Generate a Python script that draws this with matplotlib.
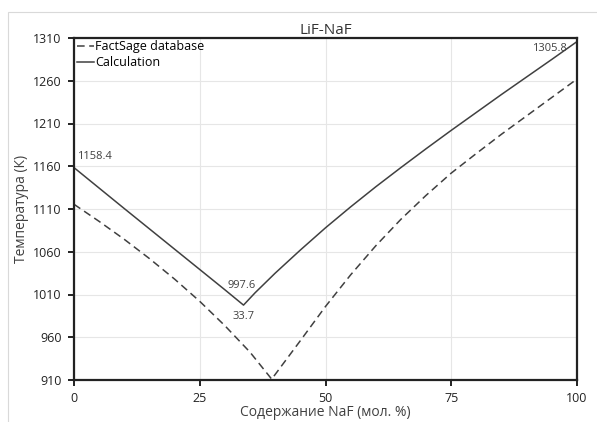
import matplotlib.pyplot as plt
from matplotlib.patches import Rectangle

# FactSage database liquidus (dashed)
naf_factsage = [0, 5, 10, 15, 20, 25, 30, 35, 39.3, 45, 50, 55, 60, 65, 70, 75, 80, 85, 90, 95, 100]
t_factsage = [1115.5, 1095.5, 1074.5, 1052, 1028, 1002, 973.5, 942.5, 911,
              956, 996, 1033, 1067, 1098, 1126, 1152, 1175, 1197.5, 1219, 1240.5, 1262]

# calculation (solid)
naf_calc = [0, 10, 20, 30, 33.7, 36, 40, 45, 50, 55, 60, 65, 70, 75, 80, 85, 90, 95, 100]
t_calc = [1158.4, 1110.5, 1063, 1015.5, 997.6, 1012, 1035, 1062, 1088, 1112.5, 1136,
          1158.5, 1180.5, 1202, 1223, 1244, 1264.5, 1285, 1305.8]

x_ticks = [0, 25, 50, 75, 100]
y_ticks = [910, 960, 1010, 1060, 1110, 1160, 1210, 1260, 1310]

plt.rcParams['font.family'] = ['Open Sans', 'DejaVu Sans']

fig = plt.figure(figsize=(5.97, 4.22), dpi=100)
fig.patches.append(Rectangle((8 / 597, -0.01), 1.0, 1 - 12 / 422 + 0.01, transform=fig.transFigure,
                             fill=False, edgecolor='#d9d9d9', linewidth=0.8))
ax = fig.add_axes([74 / 597, 1 - 380 / 422, 503 / 597, 342 / 422])

ax.plot(naf_factsage, t_factsage, color='#404040', lw=1.1, dashes=(5, 3), label='FactSage database')
ax.plot(naf_calc, t_calc, color='#404040', lw=1.1, label='Calculation')

ax.set_xlim(0, 100)
ax.set_ylim(910, 1310)
ax.set_xticks(x_ticks)
ax.set_yticks(y_ticks)
ax.grid(True, color='#e6e6e6', lw=0.8)
ax.set_axisbelow(True)
for s in ax.spines.values():
    s.set_linewidth(1.6)
    s.set_color('#222222')
ax.tick_params(direction='out', length=4, width=1.4, labelsize=9, colors='#222222', pad=5)

ax.set_title('LiF-NaF', fontsize=11, pad=3, color='#333333')
ax.set_xlabel('Содержание NaF (мол. %)', fontsize=10, labelpad=0, color='#404040')
ax.set_ylabel('Температура (К)', fontsize=10, labelpad=3, color='#404040')

# point labels
lbl = dict(textcoords='offset points', fontsize=8, color='#404040')
ax.annotate('1158.4', (0, 1158.4), xytext=(2, 4), ha='left', va='bottom', **lbl)
ax.annotate('997.6', (33.7, 997.6), xytext=(-1, 10), ha='center', va='bottom', **lbl)
ax.annotate('33.7', (33.7, 997.6), xytext=(0, -4), ha='center', va='top', **lbl)
ax.annotate('1305.8', (100, 1305.8), xytext=(-7, -5), ha='right', va='center', **lbl)

ax.legend(loc='upper left', frameon=False, fontsize=9, handlelength=1.4, handletextpad=0.1,
          borderaxespad=0.1, borderpad=0.1, labelspacing=0.2)

fig.savefig('out.png', dpi=100)
